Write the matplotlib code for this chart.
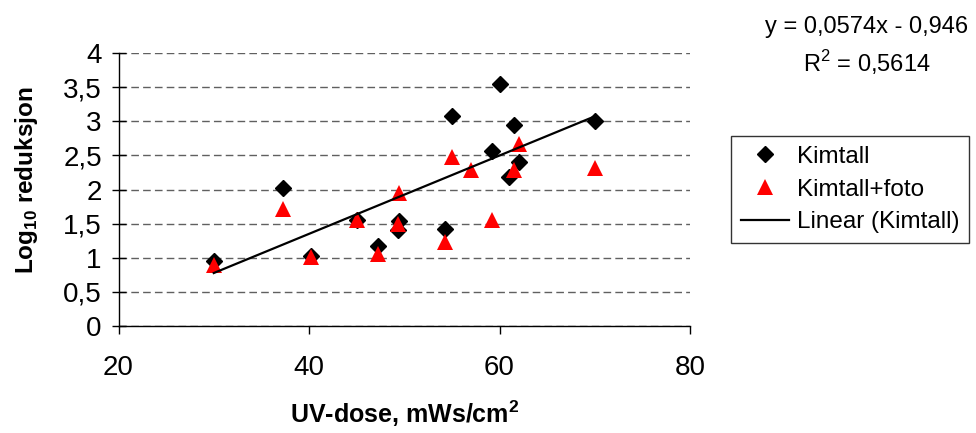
import matplotlib
matplotlib.use('Agg')
import matplotlib.pyplot as plt

plt.rcParams['font.family'] = 'Liberation Sans'
plt.rcParams['mathtext.fontset'] = 'custom'
plt.rcParams['mathtext.rm'] = 'Liberation Sans'
plt.rcParams['mathtext.bf'] = 'Liberation Sans:bold'

# UV-dose (mWs/cm2) og log10-reduksjon
kim_x = [30.0, 37.3, 40.2, 45.0, 47.2, 49.4, 49.3, 54.3, 55.0, 59.2, 60.0, 61.0, 61.5, 62.0, 70.0]
kim_y = [0.95, 2.02, 1.03, 1.56, 1.17, 1.54, 1.40, 1.42, 3.07, 2.57, 3.54, 2.18, 2.94, 2.40, 3.01]

foto_x = [30.0, 37.3, 40.2, 45.0, 47.2, 49.5, 49.3, 54.3, 55.0, 57.0, 59.2, 61.5, 62.0, 70.0]
foto_y = [0.89, 1.72, 1.01, 1.55, 1.06, 1.95, 1.49, 1.23, 2.47, 2.28, 1.56, 2.29, 2.66, 2.31]

# lineær trendlinje (Kimtall)
slope = 0.0574
intercept = -0.946
r2 = 0.5614

x_ticks = [20, 40, 60, 80]
y_ticks = [0, 0.5, 1, 1.5, 2, 2.5, 3, 3.5, 4]
y_tick_labels = ['0', '0,5', '1', '1,5', '2', '2,5', '3', '3,5', '4']

fig = plt.figure(figsize=(9.76, 4.33), dpi=100)
ax = fig.add_axes([118.5 / 976, 1 - 326 / 433, (690 - 118.5) / 976, (326 - 53) / 433])

ax.plot(kim_x, kim_y, linestyle='none', marker='D', markersize=8.2,
        color='black', label='Kimtall', zorder=3)
ax.plot(foto_x, foto_y, linestyle='none', marker='^', markersize=11.5,
        color='red', markeredgewidth=0, label='Kimtall+foto', zorder=4)

trend_x = [min(kim_x), max(kim_x)]
trend_y = [slope * v + intercept for v in trend_x]
ax.plot(trend_x, trend_y, color='black', linewidth=1.6, label='Linear (Kimtall)', zorder=5)

ax.set_xlim(20, 80)
ax.set_ylim(0, 4)
ax.set_xticks(x_ticks)
ax.set_yticks(y_ticks)
ax.set_yticklabels(y_tick_labels)

ax.grid(axis='y', color='#606060', linestyle=(0, (5.5, 3.0)), linewidth=1)
ax.set_axisbelow(True)

for side in ['top', 'right']:
    ax.spines[side].set_visible(False)
for side in ['left', 'bottom']:
    ax.spines[side].set_linewidth(1)
    ax.spines[side].set_color('black')

ax.tick_params(axis='y', direction='inout', length=10, width=1, labelsize=20, pad=7)
ax.tick_params(axis='x', direction='out', length=6, width=1, labelsize=20, pad=15)

ax.set_xlabel(r'UV-dose, mWs/cm$^{\mathbf{2}}$', fontsize=18, fontweight='bold', va='center')
ax.xaxis.set_label_coords(0.5, (326 - 414) / 273)
ax.set_ylabel(r'Log$_{\mathbf{10}}$ reduksjon', fontsize=17.5, fontweight='bold', va='center')
ax.yaxis.set_label_coords((27 - 118.5) / 571.5, (326 - 180) / 273)

leg = fig.legend(loc='center', bbox_to_anchor=(850 / 976, 1 - 189.5 / 433),
                 fontsize=17.5, frameon=True, fancybox=False, edgecolor='black',
                 handlelength=2.0, handletextpad=0.3, labelspacing=0.45,
                 borderpad=0.4, numpoints=1)
leg.get_frame().set_linewidth(1)

fig.text(867 / 976, 1 - 27 / 433, 'y = 0,0574x - 0,946', fontsize=17, ha='center', va='center')
fig.text(867 / 976, 1 - 63 / 433, r'R$^{\mathrm{2}}$ = 0,5614', fontsize=17, ha='center', va='center')

fig.savefig('out.png', dpi=100)
